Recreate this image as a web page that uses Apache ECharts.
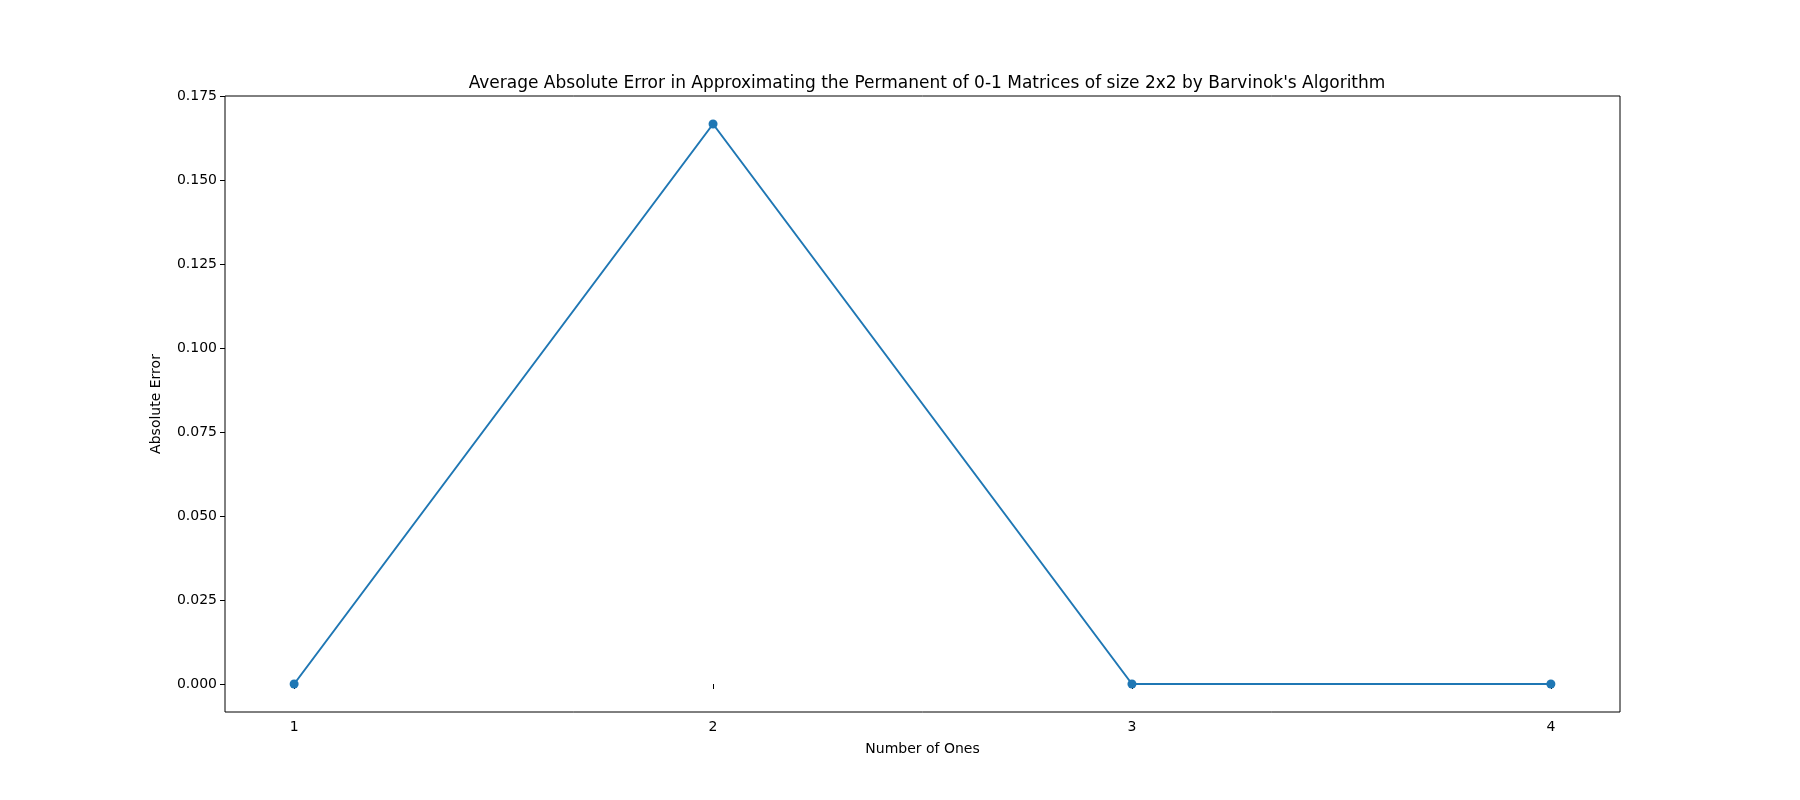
<!DOCTYPE html>
<html>
<head>
<meta charset="utf-8">
<script src="https://cdn.jsdelivr.net/npm/echarts@6/dist/echarts.min.js"></script>
<style>html,body{margin:0;padding:0;background:#fff}#main{width:1800px;height:800px}</style>
</head>
<body>
<div id="main"></div>
<script>
// 数据
var numberOfOnes = [1, 2, 3, 4];
var absError = [0, 0.16667, 0, 0];
var xTicks = [1, 2, 3, 4];
var yTicks = [0, 0.025, 0.05, 0.075, 0.1, 0.125, 0.15, 0.175];

var myChart = echarts.init(document.getElementById('main'));
var font = 'DejaVu Sans';
var option = {
    animation: false,
    title: {
        text: "Average Absolute Error in Approximating the Permanent of 0-1 Matrices of size 2x2 by Barvinok's Algorithm",
        left: 922, textAlign: 'center', top: 70,
        textStyle: { fontFamily: font, fontSize: 17, fontWeight: 'normal', color: '#000' }
    },
    grid: { left: 225, right: 180, top: 96, bottom: 88, show: true, borderColor: '#000', borderWidth: 1, backgroundColor: '#fff' },
    xAxis: {
        type: 'value', min: 0.835, max: 4.165,
        name: 'Number of Ones', nameLocation: 'middle', nameGap: 30,
        nameTextStyle: { fontFamily: font, fontSize: 14, color: '#000' },
        axisLine: { show: false },
        axisTick: { length: 5, lineStyle: { color: '#000' }, customValues: xTicks },
        axisLabel: { fontFamily: font, fontSize: 14, color: '#000', margin: 8, customValues: xTicks },
        splitLine: { show: false }
    },
    yAxis: {
        type: 'value', min: -0.00833, max: 0.175,
        name: 'Absolute Error', nameLocation: 'middle', nameGap: 62,
        nameTextStyle: { fontFamily: font, fontSize: 14, color: '#000' },
        axisLine: { show: false },
        axisTick: { show: true, length: 5, lineStyle: { color: '#000' }, customValues: yTicks },
        axisLabel: { fontFamily: font, fontSize: 14, color: '#000', margin: 8, customValues: yTicks,
            formatter: function (v) { return v.toFixed(3); } },
        splitLine: { show: false }
    },
    series: [{
        type: 'line',
        data: numberOfOnes.map(function (x, i) { return [x, absError[i]]; }),
        symbol: 'circle', symbolSize: 9,
        lineStyle: { color: '#1f77b4', width: 2 },
        itemStyle: { color: '#1f77b4' }
    }]
};
myChart.setOption(option);
</script>
</body>
</html>
